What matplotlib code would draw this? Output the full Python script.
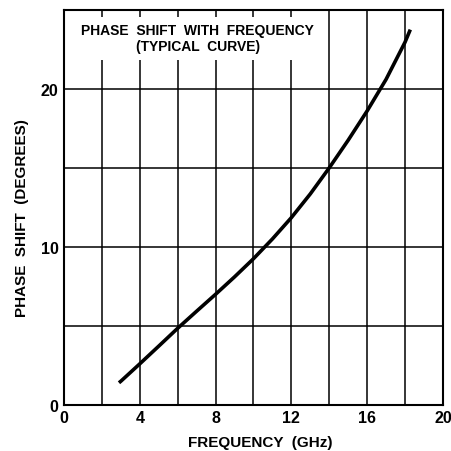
import numpy as np
from matplotlib import pyplot as plt

plt.rcParams["font.family"] = ["Liberation Sans", "DejaVu Sans"]

# values
freq = [2.9, 3.0, 4.0, 5.0, 6.0, 7.0, 8.0, 9.0, 10.0, 11.0, 12.0, 13.0, 14.0, 15.0, 16.0, 17.0, 18.0, 18.28]
phase = [1.4, 1.5, 2.6, 3.72, 4.85, 5.93, 7.0, 8.1, 9.25, 10.5, 11.85, 13.35, 15.0, 16.75, 18.6, 20.6, 22.95, 23.75]

x_ticks = [0, 4, 8, 12, 16, 20]
y_ticks = [0, 10, 20]
x_grid = [2, 4, 6, 8, 10, 12, 14, 16, 18]
y_grid = [5, 10, 15, 20]

fig = plt.figure(figsize=(4.51, 4.52), dpi=100)
ax = fig.add_axes([0.142, 0.102, 0.840, 0.874])

for gx in x_grid:
    ax.axvline(gx, color="black", lw=1.1, zorder=1)
for gy in y_grid:
    ax.axhline(gy, color="black", lw=1.1, zorder=1)

ax.plot(freq, phase, color="black", lw=2.6, solid_capstyle="butt", solid_joinstyle="round", zorder=3)

ax.text(7.05, 23.2, "PHASE  SHIFT  WITH  FREQUENCY\n(TYPICAL  CURVE)", ha="center", va="center",
        fontsize=10, fontweight="bold", linespacing=1.15, zorder=2,
        bbox=dict(facecolor="white", edgecolor="none", pad=5))

ax.set_xlim(0, 20)
ax.set_ylim(0, 25)
ax.set_xticks(x_ticks)
ax.set_yticks(y_ticks)
ax.tick_params(length=0, labelsize=11.5)
ax.tick_params(axis="x", pad=4)
ax.tick_params(axis="y", pad=4)
for lab in ax.get_xticklabels() + ax.get_yticklabels():
    lab.set_fontweight("bold")
for s in ax.spines.values():
    s.set_linewidth(1.5)

fig.text(0.577, 0.02, "FREQUENCY  (GHz)", ha="center", va="center", fontsize=11, fontweight="bold")
fig.text(0.048, 0.518, "PHASE  SHIFT  (DEGREES)", ha="center", va="center", rotation=90,
         fontsize=11, fontweight="bold")

fig.savefig("out.png", dpi=100)
